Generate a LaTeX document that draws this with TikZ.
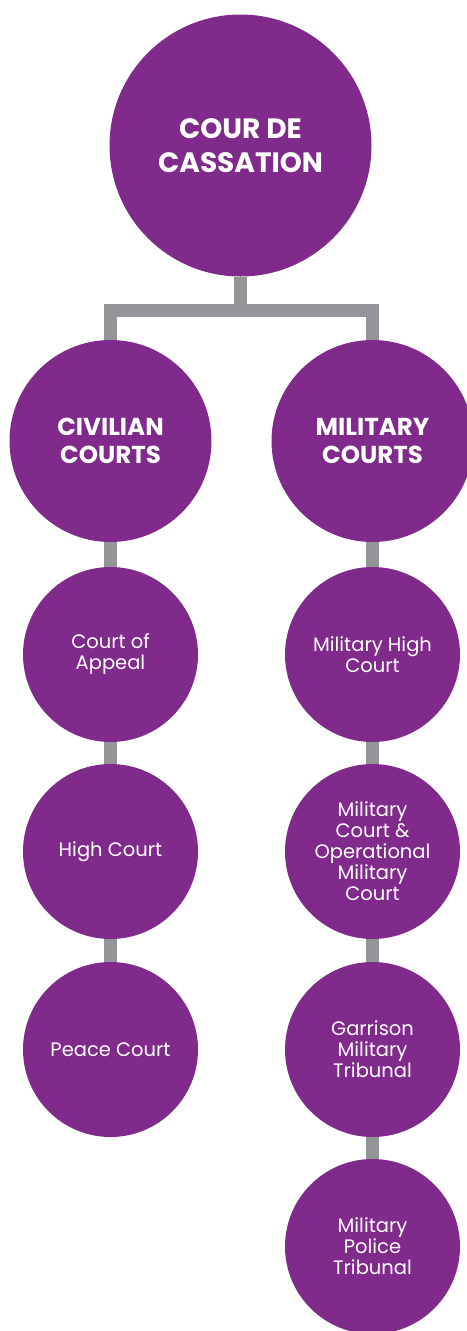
\documentclass[tikz,border=0pt]{standalone}
\usepackage{fontspec}
\setmainfont{Poppins}
\usetikzlibrary{backgrounds}
\definecolor{courtpurple}{RGB}{128,42,140}
\definecolor{linkgray}{RGB}{147,149,152}
\begin{document}
\begin{tikzpicture}[x=1pt,y=-1pt,
  court/.style={circle,fill=courtpurple,text=white,align=center,inner sep=0pt},
  bigcourt/.style={court,minimum size=262pt,font=\bfseries\fontsize{28}{34}\selectfont},
  branch/.style={court,minimum size=202pt,font=\bfseries\fontsize{24.5}{28}\selectfont},
  lowcourt/.style={court,minimum size=175pt,font=\fontsize{19.5}{21}\selectfont},
  link/.style={draw=linkgray,line width=13pt,line join=miter}]
\useasboundingbox (0,0) rectangle (466,1331);

% top of the hierarchy
\node[bigcourt] (top) at (240.5,145.5) {COUR DE\\CASSATION};

% the two branches
\node[branch] (civ) at (110.5,441) {CIVILIAN\\COURTS};
\node[branch] (mil) at (372.5,441) {MILITARY\\COURTS};

% civilian chain
\node[lowcourt] (coa) at (110.5,654.5) {Court of\\Appeal};
\node[lowcourt] (hc)  at (110.5,851.5) {High Court};
\node[lowcourt] (pc)  at (110.5,1049.5) {Peace Court};

% military chain
\node[lowcourt] (mhc) at (372.5,654.5) {Military High\\Court};
\node[lowcourt] (mco) at (372.5,851.5) {Military\\Court \&\\Operational\\Military\\Court};
\node[lowcourt] (gmt) at (372.5,1049.5) {Garrison\\Military\\Tribunal};
\node[lowcourt] (mpt) at (372.5,1246.5) {Military\\Police\\Tribunal};

\coordinate (bar) at (240.5,310);

\begin{scope}[on background layer]
  \draw[link] (top) -- (bar);
  \draw[link] (civ) |- (bar) -| (mil);
  \draw[link] (civ) -- (coa);
  \draw[link] (coa) -- (hc);
  \draw[link] (hc) -- (pc);
  \draw[link] (mil) -- (mhc);
  \draw[link] (mhc) -- (mco);
  \draw[link] (mco) -- (gmt);
  \draw[link] (gmt) -- (mpt);
\end{scope}
\end{tikzpicture}
\end{document}
